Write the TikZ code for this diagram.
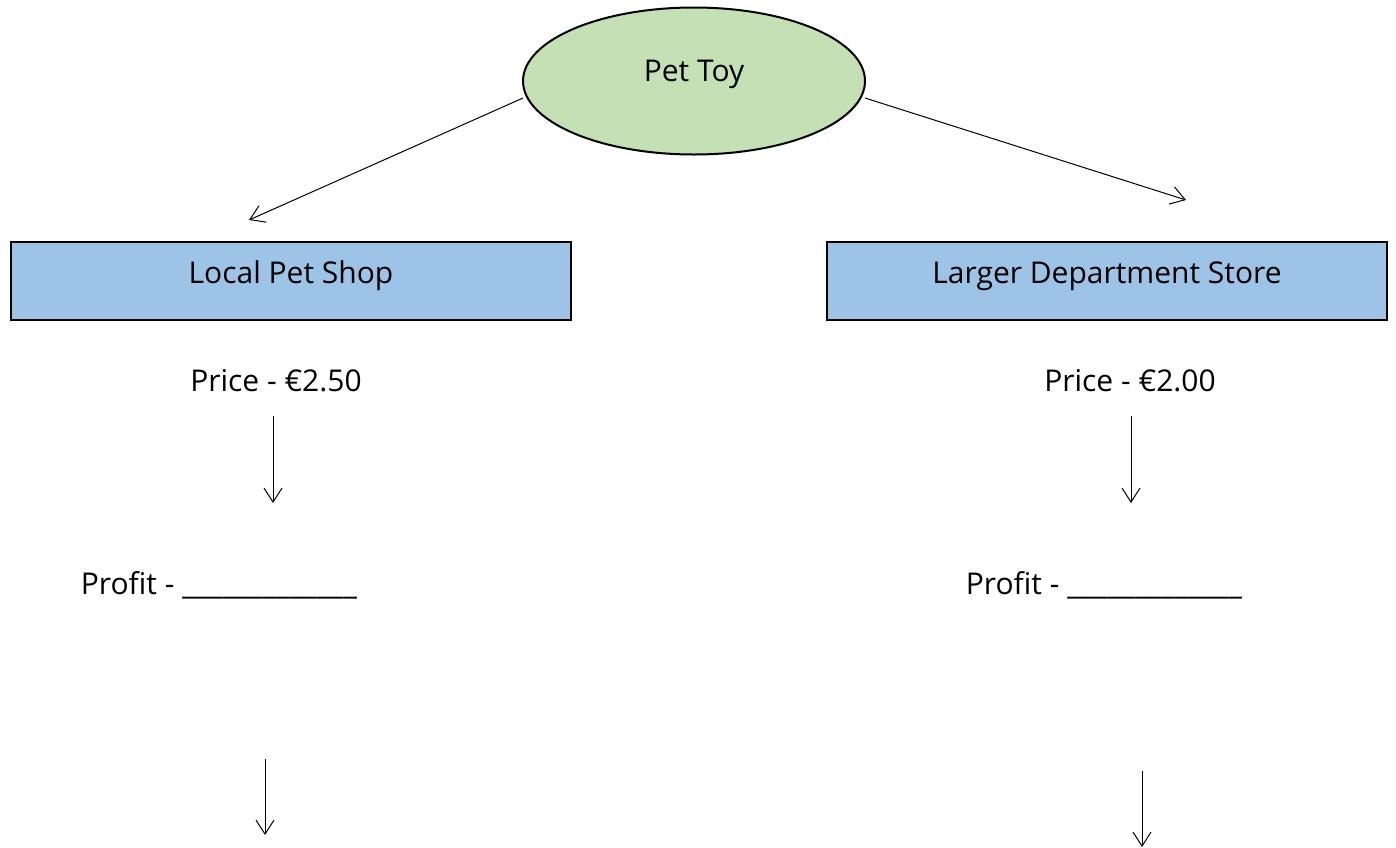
\documentclass[tikz,border=0pt]{standalone}
\usepackage{fontspec}
\setmainfont{Open Sans}
\usetikzlibrary{shapes.geometric,arrows.meta}
\definecolor{petgreen}{HTML}{C5E0B4}
\definecolor{shopblue}{HTML}{9DC3E6}
\begin{document}
\begin{tikzpicture}[x=1pt,y=-1pt,
  lbl/.style={font=\fontsize{30}{36}\selectfont, inner sep=0pt},
  shopbox/.style={draw=black, line width=2pt, fill=shopblue, minimum width=560pt, minimum height=78pt, inner sep=0pt},
  arr/.style={line width=1pt, -{Straight Barb[length=14pt,width=18pt,line width=1pt]}}]
\useasboundingbox (0,0) rectangle (1396,847);
\node[ellipse, draw=black, line width=2pt, fill=petgreen, minimum width=342pt, minimum height=147pt, inner sep=0pt,
  label={[lbl,yshift=7pt]center:Pet Toy}] (toy) at (694,81) {};
\node[shopbox, label={[lbl,yshift=5pt]center:Local Pet Shop}] (local) at (291,281) {};
\node[shopbox, label={[lbl,yshift=5pt]center:Larger Department Store}] (dept) at (1107,281) {};
\node[lbl] (p1) at (276,381) {Price - €2.50};
\node[lbl] (p2) at (1130,381) {Price - €2.00};
\node[lbl] (f1) at (219,585) {Profit - \_\_\_\_\_\_\_\_\_\_\_\_\_};
\node[lbl] (f2) at (1104,585) {Profit - \_\_\_\_\_\_\_\_\_\_\_\_\_};
\coordinate (tl) at (523,98);
\coordinate (tr) at (865,98);
\coordinate (el) at (249,220);
\coordinate (er) at (1186,200);
\draw[arr] (tl) -- (el);
\draw[arr] (tr) -- (er);
\coordinate (a1) at (273,416); \coordinate (b1) at (273,503);
\coordinate (a2) at (1131,416); \coordinate (b2) at (1131,503);
\coordinate (c1) at (265,759); \coordinate (d1) at (265,835);
\coordinate (c2) at (1142,771); \coordinate (d2) at (1142,847);
\draw[arr] (a1) -- (b1);
\draw[arr] (a2) -- (b2);
\draw[arr] (c1) -- (d1);
\draw[arr] (c2) -- (d2);
\end{tikzpicture}
\end{document}
